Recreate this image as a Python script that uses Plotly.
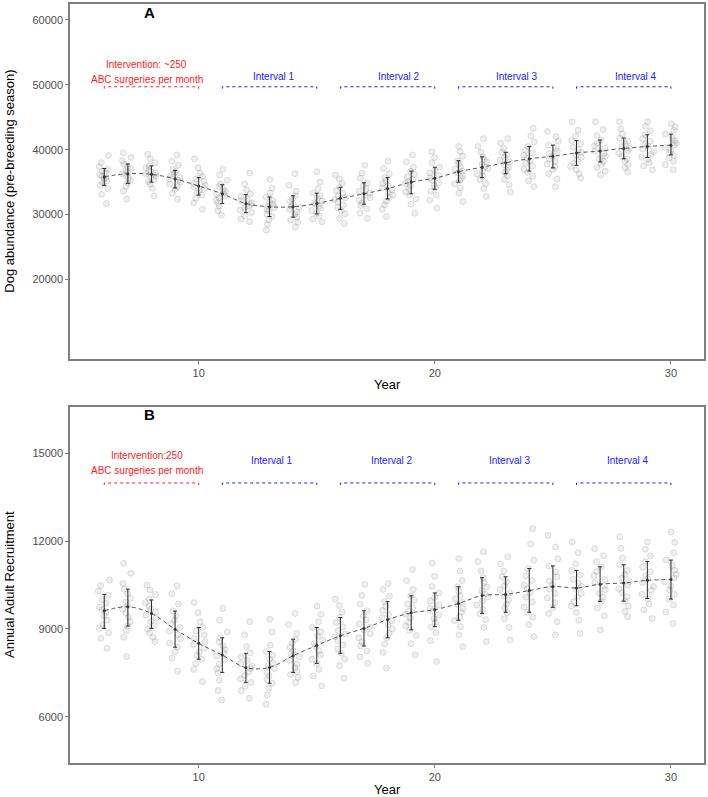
import plotly.graph_objects as go

# ---------------- data ----------------
years = list(range(6, 31))

# Panel A: dog abundance (pre-breeding season)
a_mean = [35800, 36300, 36200, 35500, 34400, 33200, 31700, 31200, 31200, 31700, 32500, 33200, 34000,
          35000, 35600, 36600, 37300, 38000, 38600, 39000, 39500, 39800, 40200, 40500, 40700]
a_low = [34500, 34800, 35000, 34100, 33000, 31700, 30300, 29700, 29600, 30100, 30800, 31600, 32400,
         33200, 33900, 35000, 35700, 36300, 36700, 37200, 37600, 38100, 38600, 38800, 39200]
a_high = [37100, 37800, 37500, 36800, 35700, 34600, 33100, 32700, 32900, 33300, 34200, 34900, 35700,
          36700, 37300, 38300, 38900, 39600, 40500, 40700, 41400, 41500, 41800, 42300, 42400]
# simulated abundances per year (hundreds of dogs), read approximately from the clouds
a_cloud = [
    [317, 331, 340, 345, 349, 352, 355, 357, 359, 361, 364, 367, 370, 374, 380, 391],
    [324, 336, 344, 349, 353, 357, 360, 363, 365, 368, 371, 374, 378, 383, 388, 395],
    [329, 340, 347, 351, 354, 357, 360, 362, 364, 366, 369, 372, 375, 380, 386, 393],
    [324, 333, 339, 343, 347, 350, 353, 355, 357, 360, 363, 366, 370, 376, 382, 392],
    [308, 318, 325, 330, 334, 337, 340, 343, 345, 348, 351, 355, 359, 364, 372, 386],
    [299, 306, 313, 318, 322, 326, 329, 331, 333, 336, 339, 343, 347, 353, 361, 370],
    [289, 293, 298, 303, 307, 310, 313, 316, 318, 321, 324, 328, 332, 338, 347, 364],
    [276, 285, 292, 297, 301, 305, 308, 311, 313, 316, 319, 322, 327, 333, 341, 354],
    [281, 288, 292, 296, 300, 304, 308, 311, 313, 316, 320, 324, 329, 336, 345, 363],
    [289, 293, 298, 302, 306, 310, 313, 316, 318, 321, 325, 329, 333, 340, 350, 366],
    [286, 294, 301, 306, 311, 315, 319, 323, 326, 329, 333, 337, 342, 348, 355, 361],
    [294, 302, 309, 314, 318, 322, 326, 330, 333, 336, 340, 344, 349, 356, 364, 376],
    [297, 308, 315, 321, 326, 330, 334, 338, 341, 344, 348, 352, 357, 363, 371, 382],
    [302, 316, 324, 330, 335, 340, 344, 348, 351, 354, 358, 362, 367, 373, 381, 392],
    [310, 322, 330, 336, 341, 345, 349, 353, 357, 360, 364, 368, 373, 380, 388, 397],
    [320, 333, 341, 347, 352, 356, 360, 364, 367, 370, 374, 378, 383, 390, 397, 405],
    [328, 340, 348, 354, 359, 363, 367, 371, 374, 377, 381, 385, 389, 396, 405, 417],
    [335, 346, 354, 360, 365, 369, 373, 377, 381, 384, 388, 392, 396, 402, 410, 417],
    [343, 352, 359, 365, 370, 375, 379, 383, 387, 391, 395, 399, 405, 412, 421, 433],
    [343, 355, 363, 369, 374, 378, 382, 386, 390, 394, 398, 402, 407, 413, 420, 428],
    [356, 363, 369, 374, 379, 384, 388, 392, 396, 400, 404, 409, 414, 421, 430, 443],
    [361, 367, 373, 378, 382, 386, 390, 394, 398, 402, 406, 410, 415, 422, 431, 443],
    [366, 372, 377, 382, 386, 390, 394, 398, 402, 405, 409, 413, 418, 424, 432, 443],
    [369, 375, 380, 385, 389, 393, 397, 401, 405, 409, 413, 417, 423, 429, 436, 443],
    [369, 377, 382, 387, 391, 395, 399, 403, 407, 410, 414, 418, 424, 430, 435, 440],
]

# Panel B: annual adult recruitment
b_mean = [9620, 9760, 9530, 8990, 8510, 8110, 7680, 7690, 8090, 8440, 8770, 9020, 9320,
          9550, 9660, 9870, 10140, 10180, 10310, 10450, 10400, 10530, 10570, 10660, 10690]
b_low = [9020, 9100, 9020, 8380, 7970, 7520, 7180, 7150, 7520, 7830, 8170, 8420, 8700,
         8970, 9080, 9300, 9530, 9570, 9570, 9740, 9790, 9940, 9950, 10040, 10020]
b_high = [10180, 10360, 9990, 9610, 9050, 8700, 8170, 8230, 8650, 9050, 9390, 9620, 9930,
          10130, 10230, 10440, 10750, 10780, 11060, 11150, 11000, 11120, 11190, 11300, 11350]
# simulated recruitment per year (tens of dogs), read approximately from the clouds
b_cloud = [
    [834, 868, 887, 902, 915, 930, 945, 958, 966, 975, 988, 1000, 1015, 1030, 1048, 1067],
    [806, 872, 895, 910, 925, 940, 955, 968, 980, 992, 1005, 1020, 1036, 1055, 1090, 1124],
    [857, 872, 888, 900, 912, 925, 937, 948, 958, 968, 978, 990, 1002, 1018, 1033, 1050],
    [757, 800, 822, 838, 852, 866, 880, 893, 905, 917, 930, 945, 962, 985, 1020, 1047],
    [720, 762, 782, 797, 810, 822, 835, 847, 857, 867, 880, 893, 906, 925, 955, 990],
    [658, 690, 725, 750, 765, 780, 795, 808, 818, 830, 843, 856, 870, 890, 930, 970],
    [664, 690, 705, 718, 730, 742, 754, 765, 773, 782, 793, 805, 818, 840, 880, 925],
    [643, 675, 698, 715, 728, 740, 752, 765, 775, 785, 797, 810, 823, 845, 890, 933],
    [717, 735, 745, 755, 768, 780, 793, 805, 815, 826, 838, 851, 865, 885, 915, 953],
    [706, 740, 762, 782, 797, 812, 826, 840, 850, 862, 876, 890, 905, 925, 950, 978],
    [732, 775, 798, 817, 832, 846, 860, 873, 883, 895, 908, 922, 939, 958, 980, 1002],
    [783, 805, 825, 842, 856, 870, 884, 897, 907, 918, 931, 945, 962, 985, 1015, 1052],
    [766, 820, 848, 870, 885, 900, 914, 928, 938, 950, 963, 977, 993, 1012, 1035, 1055],
    [812, 850, 877, 896, 910, 923, 937, 950, 960, 972, 985, 998, 1013, 1035, 1065, 1103],
    [789, 860, 888, 907, 922, 935, 948, 961, 971, 982, 995, 1008, 1023, 1045, 1080, 1125],
    [840, 880, 908, 928, 943, 957, 970, 983, 992, 1003, 1015, 1028, 1044, 1065, 1098, 1140],
    [857, 905, 932, 952, 967, 982, 996, 1009, 1019, 1030, 1043, 1057, 1075, 1098, 1130, 1163],
    [863, 905, 935, 955, 971, 985, 999, 1012, 1023, 1034, 1047, 1061, 1078, 1098, 1122, 1146],
    [874, 915, 940, 957, 975, 992, 1008, 1024, 1037, 1050, 1065, 1082, 1106, 1135, 1190, 1242],
    [880, 925, 953, 973, 990, 1006, 1021, 1036, 1050, 1063, 1078, 1095, 1115, 1140, 1180, 1219],
    [885, 930, 957, 978, 994, 1008, 1021, 1034, 1045, 1056, 1070, 1084, 1100, 1122, 1160, 1197],
    [897, 945, 972, 993, 1008, 1021, 1034, 1047, 1058, 1069, 1082, 1096, 1112, 1130, 1150, 1174],
    [942, 960, 978, 995, 1010, 1024, 1037, 1050, 1062, 1073, 1086, 1100, 1119, 1142, 1175, 1214],
    [936, 965, 985, 1004, 1018, 1032, 1045, 1059, 1071, 1082, 1095, 1110, 1130, 1150, 1172, 1197],
    [919, 958, 982, 1002, 1018, 1033, 1047, 1061, 1074, 1086, 1100, 1116, 1135, 1160, 1195, 1231],
]

# bracket periods (start year, end year) and labels
bracket_start = [6, 11, 16, 21, 26]
bracket_end = [10, 15, 20, 25, 30]
interval_labels = ["Interval 1", "Interval 2", "Interval 3", "Interval 4"]
a_label_x = [13.2, 18.5, 23.5, 28.5]
b_label_x = [13.1, 18.2, 23.2, 28.2]
x_ticks = [10, 20, 30]
a_ticks = [20000, 30000, 40000, 50000, 60000]
b_ticks = [6000, 9000, 12000, 15000]

# ---------------- figure ----------------
FONT = "Liberation Sans, Arial, sans-serif"
fig = go.Figure()

def add_panel(xa, ya, cloud, scale, mean, low, high):
    xs, ys = [], []
    for yr, vals in zip(years, cloud):
        xs += [yr] * len(vals)
        ys += [v * scale for v in vals]
    fig.add_trace(go.Box(
        x=xs, y=ys, xaxis=xa, yaxis=ya, boxpoints="all", jitter=1, pointpos=0,
        width=0.55, line=dict(width=0, color="rgba(0,0,0,0)"), fillcolor="rgba(0,0,0,0)",
        marker=dict(size=6, color="rgba(150,150,150,0.15)",
                    line=dict(color="rgba(110,110,110,0.24)", width=0.8)),
        showlegend=False, hoveron="points"))
    fig.add_trace(go.Scatter(
        x=years, y=mean, xaxis=xa, yaxis=ya, mode="lines", line_shape="spline",
        line=dict(color="#5a5a5a", dash="4px,3px", width=1), showlegend=False))
    fig.add_trace(go.Scatter(
        x=years, y=mean, xaxis=xa, yaxis=ya, mode="markers",
        marker=dict(size=3, color="#333333"),
        error_y=dict(type="data", symmetric=False,
                     array=[h - m for h, m in zip(high, mean)],
                     arrayminus=[m - l for m, l in zip(mean, low)],
                     color="#2a2a2a", thickness=1, width=2),
        showlegend=False))

add_panel("x", "y", a_cloud, 100, a_mean, a_low, a_high)
add_panel("x2", "y2", b_cloud, 10, b_mean, b_low, b_high)

def add_brackets(xa, ya, level, drop):
    for i, (s, e) in enumerate(zip(bracket_start, bracket_end)):
        col = "#ff2020" if i == 0 else "#2020ff"
        fig.add_trace(go.Scatter(
            x=[s, s, e, e], y=[level - drop, level, level, level - drop],
            xaxis=xa, yaxis=ya, mode="lines",
            line=dict(color=col, width=1, dash="3px,3px"), showlegend=False, hoverinfo="skip"))

add_brackets("x", "y", 49700, 300)
add_brackets("x2", "y2", 13980, 70)

ann = []
def txt(x, y, t, xref, yref, size=10, color="black", **kw):
    ann.append(dict(x=x, y=y, text=t, xref=xref, yref=yref, showarrow=False,
                    xanchor="center", yanchor="middle",
                    font=dict(family=FONT, size=size, color=color), **kw))

# panel A annotations
txt(7.9, 61100, "<b>A</b>", "x", "y", size=15)
txt(7.8, 53080, "Intervention: ~250", "x", "y", color="#ff2020")
txt(7.8, 50770, "ABC surgeries per month", "x", "y", color="#ff2020")
for lx, lab in zip(a_label_x, interval_labels):
    txt(lx, 51230, lab, "x", "y", color="#2020ff")
# panel B annotations
txt(7.9, 16300, "<b>B</b>", "x2", "y2", size=15)
txt(7.8, 14930, "Intervention:250", "x2", "y2", color="#ff2020")
txt(7.8, 14420, "ABC surgeries per month", "x2", "y2", color="#ff2020")
for lx, lab in zip(b_label_x, interval_labels):
    txt(lx, 14760, lab, "x2", "y2", color="#2020ff")

# axis titles
txt(0.5, 0.4993, "Year", "paper", "paper", size=13)
txt(0.5, -0.0355, "Year", "paper", "paper", size=13)
txt(-0.0945, 0.766, "Dog abundance (pre-breeding season)", "paper", "paper", size=13, textangle=-90)
txt(-0.0945, 0.2346, "Annual Adult Recruitment", "paper", "paper", size=13, textangle=-90)

axis_common = dict(showgrid=False, zeroline=False, showline=True, linecolor="#7f7f7f",
                   linewidth=1.5, mirror=True, ticks="outside", ticklen=3, tickcolor="#7f7f7f",
                   tickwidth=1, tickformat="d",
                   tickfont=dict(family=FONT, size=11, color="#4d4d4d"))

fig.update_layout(
    width=708, height=797, margin=dict(l=70, r=3, t=2, b=34),
    paper_bgcolor="white", plot_bgcolor="white", showlegend=False,
    font=dict(family=FONT),
    xaxis=dict(domain=[0, 1], anchor="y", range=[4.55, 31.4], tickvals=x_ticks, **axis_common),
    yaxis=dict(domain=[0.532, 1], anchor="x", range=[7700, 62460], tickvals=a_ticks, **axis_common),
    xaxis2=dict(domain=[0, 1], anchor="y2", range=[4.55, 31.4], tickvals=x_ticks, **axis_common),
    yaxis2=dict(domain=[0, 0.469], anchor="x2", range=[4430, 16570], tickvals=b_ticks, **axis_common),
    annotations=ann,
)

fig.write_html("out.html", config={"displayModeBar": False},
               post_script="document.body.style.margin='0';document.body.style.overflow='hidden';")
